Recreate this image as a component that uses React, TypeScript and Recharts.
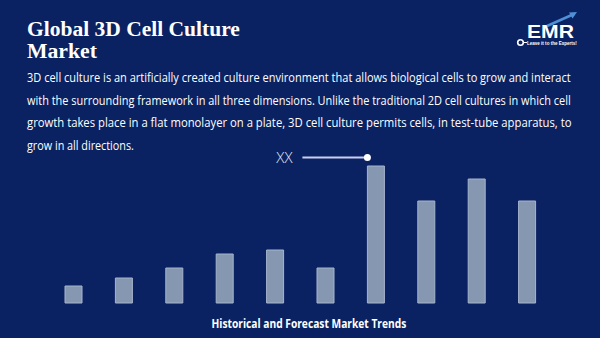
import { useLayoutEffect, useRef, useState } from "react";
import { BarChart, Bar, XAxis, YAxis } from "recharts";

const BG = "#0a2262";
const BAR_FILL = "#8597b1";
const BAR_STROKE = "#a6b5cd";

const periods = ["2018", "2019", "2020", "2021", "2022", "2023", "2024", "2025", "2026", "2027"];
const marketValues = [17, 25, 35, 49, 53, 35, 137, 102, 124, 102];
const calloutLabel = "XX";

const titleLines = ["Global 3D Cell Culture", "Market"];
const introLines = [
  "3D cell culture is an artificially created culture environment that allows biological cells to grow and interact",
  "with the surrounding framework in all three dimensions. Unlike the traditional 2D cell cultures in which cell",
  "growth takes place in a flat monolayer on a plate, 3D cell culture permits cells, in test-tube apparatus, to",
  "grow in all directions.",
];
const introWidths = [544, 544, 545, 107];
const footerText = "Historical and Forecast Market Trends";

const data = periods.map((p, i) => ({ period: p, value: marketValues[i] }));
const peakIndex = marketValues.indexOf(Math.max(...marketValues));

// callout drawn on the tallest bar: a line ending in a dot at its left edge
const Callout = (props: any) => {
  const { x, y, index } = props;
  if (index !== peakIndex) return null;
  const cy = y - 8.5;
  return (
    <g>
      <line x1={x - 65} y1={cy} x2={x} y2={cy} stroke="#c9cff2" strokeWidth={2} />
      <circle cx={x} cy={cy} r={3.5} fill="#ffffff" />
      <text
        x={x - 83}
        y={cy + 5.5}
        textAnchor="middle"
        fill="#e4e8f6"
        fontFamily="'Open Sans', sans-serif"
        fontWeight={300}
        fontSize={15}
      >
        {calloutLabel}
      </text>
    </g>
  );
};

// text squeezed horizontally to a given width (narrow Calibri-like look)
function FitText({ x, y, width, children, ...rest }: any) {
  const ref = useRef<SVGTextElement>(null);
  const [sx, setSx] = useState(1);
  useLayoutEffect(() => {
    if (ref.current) {
      const len = ref.current.getComputedTextLength();
      if (len > 0) setSx(width / len);
    }
  }, [width, children]);
  return (
    <g transform={`translate(${x},${y}) scale(${sx},1)`}>
      <text ref={ref} x={0} y={0} {...rest}>
        {children}
      </text>
    </g>
  );
}

export default function App() {
  return (
    <div
      style={{
        position: "absolute",
        left: 0,
        top: 0,
        width: 600,
        height: 338,
        background: BG,
        overflow: "hidden",
      }}
    >
      <BarChart
        width={600}
        height={338}
        data={data}
        margin={{ top: 163, right: 48, bottom: 35, left: 48 }}
        style={{ position: "absolute", left: 0, top: 0 }}
      >
        <XAxis dataKey="period" hide />
        <YAxis hide domain={[0, 140]} />
        <Bar
          dataKey="value"
          fill={BAR_FILL}
          stroke={BAR_STROKE}
          strokeWidth={1}
          barSize={17}
          isAnimationActive={false}
          label={<Callout />}
        />
      </BarChart>

      <svg
        width={600}
        height={338}
        style={{ position: "absolute", left: 0, top: 0, pointerEvents: "none" }}
      >
        {/* title */}
        <FitText
          x={27}
          y={35.5}
          width={213}
          fill="#ffffff"
          fontFamily="'Liberation Serif', serif"
          fontWeight={700}
          fontSize={21}
        >
          {titleLines[0]}
        </FitText>
        <FitText
          x={27}
          y={58}
          width={70}
          fill="#ffffff"
          fontFamily="'Liberation Serif', serif"
          fontWeight={700}
          fontSize={21}
        >
          {titleLines[1]}
        </FitText>

        {/* intro paragraph, justified */}
        {introLines.map((line, i) => (
          <FitText
            key={i}
            x={27}
            y={82 + i * 22.5}
            width={introWidths[i]}
            fill="#ffffff"
            fontFamily="'Open Sans', sans-serif"
            fontSize={12}
          >
            {line}
          </FitText>
        ))}

        {/* footer */}
        <FitText
          x={211.5}
          y={327.5}
          width={195}
          fill="#ffffff"
          fontFamily="'Open Sans', sans-serif"
          fontWeight={700}
          fontSize={11.5}
        >
          {footerText}
        </FitText>

        {/* EMR logo */}
        <g>
          <line x1={547} y1={26} x2={574} y2={14} stroke="#4f8fd6" strokeWidth={2.5} />
          <polygon points="577,12 569,12.5 572.5,18.5" fill="#4f8fd6" />
          <line x1={523} y1={42.5} x2={527} y2={42.5} stroke="#ffffff" strokeWidth={1} />
          <circle cx={520.5} cy={42.5} r={2.8} fill="none" stroke="#ffffff" strokeWidth={1.6} />
          <FitText
            x={527}
            y={37.5}
            width={47}
            fill="#ffffff"
            fontFamily="'Liberation Sans', sans-serif"
            fontWeight={700}
            fontSize={19}
          >
            EMR
          </FitText>
          <FitText
            x={527}
            y={45}
            width={50}
            fill="#ffffff"
            fontFamily="'Liberation Sans', sans-serif"
            fontWeight={700}
            fontSize={4.8}
          >
            Leave it to the Experts!
          </FitText>
        </g>
      </svg>
    </div>
  );
}
